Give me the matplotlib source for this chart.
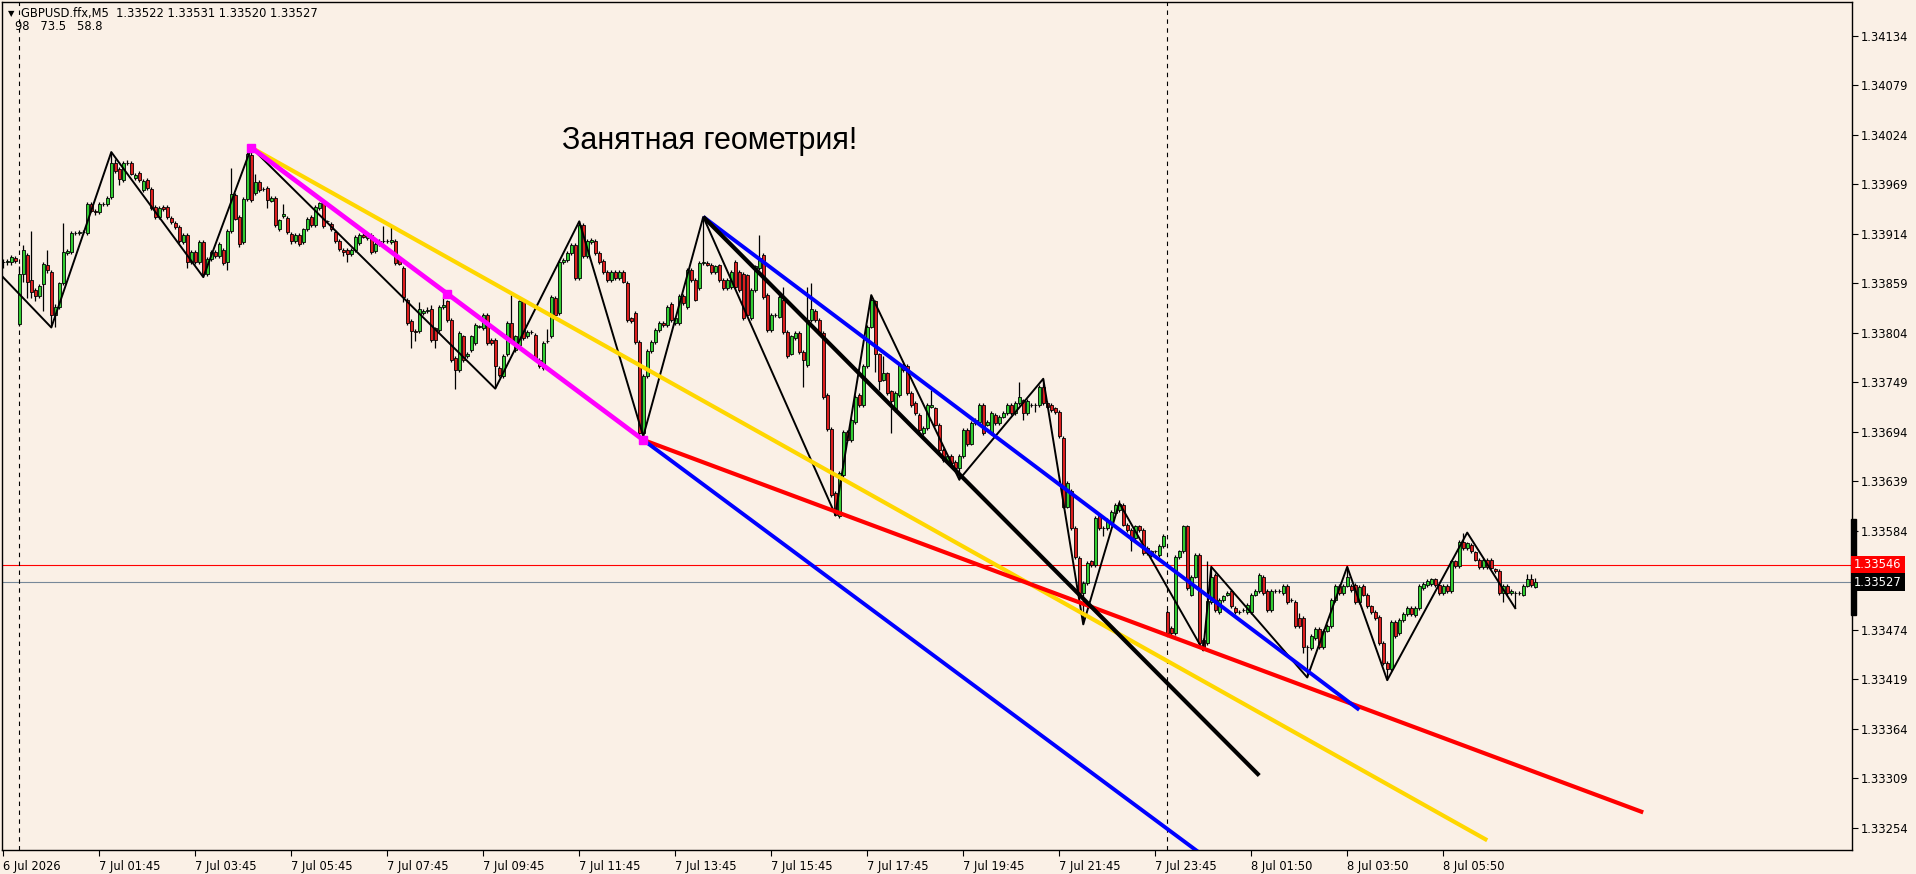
import numpy as np
import matplotlib.pyplot as plt
from matplotlib.patches import Rectangle
from matplotlib.transforms import blended_transform_factory

# 1. data: M5 candles, points above 1.33000
base = 1.33
pt = 1e-5

o = [883, 883, 883, 887, 814, 869, 891, 863, 852, 845, 858, 880, 872, 824, 833, 859, 893, 894, 915, 915,
     916, 915, 947, 940, 938, 947, 947, 955, 993, 986, 974, 993, 993, 976, 982, 963, 974, 964, 944, 933,
     944, 944, 932, 926, 922, 905, 913, 883, 894, 883, 905, 869, 886, 894, 889, 896, 883, 917, 957, 933,
     905, 953, 1002, 959, 972, 964, 965, 951, 954, 919, 934, 932, 914, 906, 913, 905, 919, 933, 924, 943,
     949, 928, 925, 916, 906, 896, 896, 892, 896, 904, 913, 909, 913, 895, 903, 906, 906, 905, 906, 887,
     876, 841, 817, 806, 806, 826, 828, 830, 809, 807, 833, 839, 818, 776, 763, 800, 778, 785, 793, 811,
     809, 824, 796, 796, 765, 756, 780, 815, 785, 791, 839, 800, 805, 802, 774, 765, 795, 800, 843, 826,
     883, 885, 893, 902, 865, 924, 889, 905, 906, 893, 884, 872, 863, 872, 865, 872, 860, 820, 826, 794,
     693, 756, 784, 794, 807, 815, 813, 836, 815, 815, 845, 833, 874, 863, 854, 882, 882, 880, 872, 879,
     863, 854, 855, 883, 872, 870, 868, 820, 852, 876, 891, 846, 807, 824, 822, 841, 805, 781, 798, 804,
     783, 768, 818, 828, 818, 804, 735, 697, 626, 600, 646, 694, 685, 705, 735, 724, 767, 811, 839, 780,
     752, 759, 739, 718, 735, 768, 767, 737, 726, 713, 693, 698, 722, 720, 702, 674, 661, 667, 661, 654,
     667, 696, 681, 704, 705, 724, 702, 693, 713, 704, 711, 715, 724, 715, 726, 729, 715, 724, 724, 724,
     744, 726, 724, 720, 716, 687, 611, 628, 587, 554, 515, 526, 550, 546, 600, 587, 587, 593, 604, 607,
     613, 591, 585, 576, 589, 585, 565, 561, 561, 557, 567, 494, 476, 470, 555, 561, 589, 513, 533, 557,
     463, 459, 505, 535, 494, 507, 513, 517, 498, 494, 496, 494, 494, 513, 517, 533, 517, 496, 517, 517,
     515, 523, 507, 505, 487, 487, 455, 454, 465, 475, 455, 473, 478, 507, 523, 515, 523, 523, 524, 505,
     523, 513, 500, 494, 488, 459, 437, 430, 483, 470, 485, 491, 498, 490, 498, 520, 524, 525, 530, 524,
     515, 523, 517, 550, 545, 572, 565, 568, 560, 552, 544, 552, 552, 541, 539, 515, 523, 515, 515, 515,
     513, 523, 530, 522]
c = [883, 884, 888, 884, 869, 896, 861, 850, 845, 856, 881, 874, 824, 833, 859, 894, 895, 915, 915, 916,
     916, 947, 940, 938, 947, 947, 954, 993, 984, 975, 993, 993, 981, 980, 974, 973, 965, 943, 933, 943,
     942, 933, 927, 922, 906, 913, 883, 894, 883, 905, 869, 886, 894, 889, 903, 882, 917, 958, 931, 903,
     953, 1003, 952, 972, 963, 964, 952, 954, 924, 929, 936, 916, 906, 913, 903, 919, 931, 924, 944, 948,
     923, 928, 919, 906, 897, 894, 892, 896, 911, 913, 911, 913, 894, 903, 906, 906, 906, 907, 882, 881,
     844, 815, 806, 805, 830, 828, 829, 796, 796, 833, 835, 818, 774, 763, 804, 774, 781, 800, 813, 811,
     824, 793, 793, 767, 757, 778, 815, 796, 800, 839, 798, 805, 805, 776, 767, 793, 795, 844, 824, 883,
     885, 893, 902, 865, 924, 889, 906, 907, 893, 883, 872, 863, 872, 865, 872, 861, 818, 817, 794, 693,
     756, 784, 794, 807, 815, 813, 833, 818, 820, 845, 837, 874, 863, 841, 882, 882, 880, 872, 878, 863,
     854, 863, 872, 855, 852, 820, 824, 852, 878, 887, 844, 807, 824, 824, 844, 805, 778, 800, 804, 783,
     774, 818, 830, 818, 804, 733, 697, 624, 602, 648, 694, 685, 707, 733, 724, 767, 811, 841, 780, 750,
     759, 737, 728, 737, 768, 763, 737, 724, 715, 696, 698, 724, 724, 702, 674, 663, 667, 659, 654, 667,
     696, 680, 704, 707, 724, 693, 705, 715, 704, 711, 715, 724, 715, 726, 733, 715, 728, 724, 724, 744,
     726, 722, 718, 716, 689, 611, 637, 587, 555, 515, 526, 548, 546, 598, 587, 587, 596, 605, 613, 614,
     591, 585, 574, 589, 585, 559, 559, 557, 561, 567, 578, 470, 470, 555, 561, 589, 520, 533, 557, 459,
     452, 506, 533, 496, 507, 511, 515, 500, 494, 494, 496, 502, 513, 517, 535, 515, 496, 517, 517, 517,
     523, 505, 507, 478, 478, 455, 455, 467, 475, 455, 473, 478, 507, 523, 515, 523, 533, 518, 505, 522,
     513, 500, 494, 487, 459, 437, 430, 483, 467, 485, 492, 498, 491, 498, 523, 525, 528, 530, 524, 515,
     523, 517, 550, 545, 572, 565, 570, 561, 552, 544, 552, 544, 543, 539, 515, 523, 515, 517, 515, 515,
     523, 530, 524, 527]
h = [886, 886, 891, 889, 878, 902, 893, 917, 854, 858, 883, 896, 874, 836, 861, 926, 897, 917, 917, 918,
     918, 949, 949, 942, 949, 949, 956, 1005, 997, 988, 995, 996, 995, 982, 984, 975, 976, 966, 946, 945,
     946, 946, 934, 928, 924, 915, 915, 896, 896, 907, 907, 888, 896, 896, 905, 898, 919, 987, 959, 935,
     955, 1005, 1009, 981, 974, 966, 967, 956, 956, 931, 947, 934, 916, 915, 915, 921, 933, 935, 946, 950,
     951, 930, 927, 918, 908, 898, 898, 898, 913, 915, 915, 915, 915, 905, 908, 923, 908, 922, 908, 889,
     878, 843, 819, 808, 838, 830, 833, 835, 811, 835, 844, 841, 820, 778, 806, 802, 783, 802, 815, 813,
     826, 826, 798, 798, 767, 780, 817, 846, 802, 841, 841, 807, 807, 804, 776, 795, 808, 846, 845, 885,
     887, 895, 904, 904, 928, 926, 908, 909, 908, 895, 886, 874, 874, 874, 874, 874, 862, 822, 828, 796,
     758, 786, 796, 809, 817, 817, 835, 838, 822, 847, 847, 876, 876, 865, 884, 933, 884, 882, 880, 881,
     865, 865, 874, 885, 874, 872, 870, 854, 880, 913, 893, 848, 826, 826, 846, 855, 807, 802, 806, 806,
     785, 855, 860, 830, 820, 806, 737, 699, 628, 650, 696, 696, 709, 735, 737, 769, 813, 846, 841, 782,
     778, 761, 741, 739, 770, 770, 769, 739, 728, 715, 700, 726, 740, 722, 704, 676, 669, 669, 663, 669,
     698, 698, 706, 709, 726, 726, 707, 717, 715, 713, 717, 726, 726, 728, 749, 731, 730, 726, 726, 746,
     753, 728, 726, 722, 718, 689, 639, 630, 589, 556, 528, 550, 552, 600, 602, 589, 598, 607, 615, 618,
     615, 593, 587, 591, 591, 587, 567, 563, 563, 569, 580, 496, 478, 557, 563, 591, 591, 535, 559, 559,
     465, 550, 544, 537, 509, 513, 517, 519, 500, 496, 498, 504, 515, 519, 537, 535, 519, 519, 519, 519,
     525, 525, 509, 507, 493, 489, 457, 469, 477, 477, 475, 480, 509, 525, 525, 525, 544, 525, 526, 524,
     525, 515, 502, 496, 490, 461, 439, 485, 485, 487, 494, 500, 500, 500, 525, 527, 530, 532, 532, 526,
     525, 525, 552, 552, 574, 582, 572, 570, 562, 554, 554, 554, 554, 543, 541, 525, 525, 519, 517, 517,
     525, 536, 536, 531]
l = [876, 880, 880, 882, 812, 861, 843, 843, 840, 843, 828, 871, 811, 811, 831, 857, 891, 892, 913, 913,
     914, 913, 938, 935, 936, 945, 945, 953, 982, 968, 972, 991, 979, 974, 972, 961, 963, 941, 931, 931,
     940, 931, 925, 920, 904, 903, 876, 881, 881, 881, 866, 867, 884, 887, 887, 880, 874, 915, 929, 899,
     903, 951, 950, 957, 961, 962, 943, 949, 922, 917, 932, 914, 903, 904, 901, 903, 917, 922, 922, 941,
     921, 926, 917, 904, 895, 889, 883, 890, 894, 902, 909, 907, 892, 893, 901, 904, 904, 903, 880, 879,
     838, 813, 787, 795, 804, 824, 826, 794, 787, 805, 831, 816, 772, 742, 761, 772, 776, 783, 791, 809,
     807, 791, 791, 743, 755, 754, 778, 794, 783, 789, 796, 798, 803, 774, 765, 763, 793, 798, 822, 824,
     881, 883, 891, 863, 863, 887, 887, 903, 891, 881, 870, 861, 861, 863, 863, 859, 816, 815, 792, 691,
     689, 754, 782, 792, 805, 811, 811, 816, 813, 813, 835, 831, 861, 839, 852, 880, 878, 870, 870, 861,
     852, 852, 853, 853, 850, 818, 822, 818, 850, 874, 842, 805, 805, 822, 820, 803, 776, 779, 796, 781,
     744, 766, 816, 816, 802, 731, 695, 622, 600, 598, 644, 683, 683, 703, 722, 722, 765, 809, 760, 740,
     750, 735, 693, 716, 733, 761, 735, 722, 713, 694, 691, 696, 720, 700, 672, 661, 659, 657, 652, 641,
     665, 678, 679, 702, 703, 691, 700, 691, 702, 702, 709, 713, 713, 713, 724, 707, 713, 722, 716, 722,
     724, 720, 716, 714, 687, 609, 609, 585, 553, 513, 480, 524, 544, 544, 585, 578, 585, 591, 602, 605,
     589, 583, 562, 574, 583, 557, 557, 555, 559, 555, 565, 468, 468, 468, 553, 559, 518, 511, 531, 457,
     451, 457, 503, 494, 492, 505, 511, 498, 492, 492, 494, 492, 492, 511, 515, 513, 494, 494, 515, 515,
     513, 503, 505, 476, 476, 448, 422, 452, 463, 453, 453, 471, 476, 505, 513, 513, 521, 516, 503, 503,
     511, 498, 492, 485, 457, 435, 418, 428, 465, 468, 483, 489, 489, 488, 496, 518, 522, 523, 522, 513,
     513, 515, 515, 543, 543, 563, 563, 559, 550, 542, 542, 542, 541, 537, 513, 505, 513, 513, 498, 513,
     511, 521, 522, 520]

# zigzag turning points (bar, points)
zz_bar = [-0.3, 12, 27, 50, 62, 123, 144, 160, 175, 208, 217, 239, 260, 270, 279, 300, 302, 326, 336, 346, 366, 378]
zz_val = [867, 810, 1005, 866, 1010, 742, 928, 689, 933, 602, 846, 641, 753, 480, 615, 451, 544, 421, 544, 418, 582, 498]

# trend lines: (bar1, pt1, bar2, pt2, colour, width)
lines = [
    (62, 1010, 371, 240, '#FFD700', 3.0),
    (160, 685, 410, 271, '#FF0000', 3.0),
    (160, 685, 300, 223, '#0000FF', 2.8),
    (175, 933, 339, 385, '#0000FF', 2.8),
    (175, 933, 314, 312, '#000000', 3.0),
    (62, 1010, 160, 685, '#FF00FF', 3.4),
]
marks_bar = [62, 111, 160]
marks_val = [1010, 847.5, 685]

ask, bid = 546, 527
day_sep = [4, 291]

tick_bars = [0, 24, 48, 72, 96, 120, 144, 168, 192, 216, 240, 264, 288, 312, 336, 360]
tick_text = ['6 Jul 2026', '7 Jul 01:45', '7 Jul 03:45', '7 Jul 05:45', '7 Jul 07:45', '7 Jul 09:45',
             '7 Jul 11:45', '7 Jul 13:45', '7 Jul 15:45', '7 Jul 17:45', '7 Jul 19:45', '7 Jul 21:45',
             '7 Jul 23:45', '8 Jul 01:50', '8 Jul 03:50', '8 Jul 05:50']
price_ticks = [1.33254, 1.33309, 1.33364, 1.33419, 1.33474, 1.33584, 1.33639, 1.33694, 1.33749,
               1.33804, 1.33859, 1.33914, 1.33969, 1.34024, 1.34079, 1.34134]

# 2. plot
bg = '#FAF0E6'
W, H = 1916, 874
fig = plt.figure(figsize=(W / 100, H / 100), dpi=100, facecolor=bg)
ax = fig.add_axes([2 / W, 24 / H, 1850 / W, 848 / H], facecolor=bg)

O = base + np.array(o) * pt
C = base + np.array(c) * pt
Hi = base + np.array(h) * pt
Lo = base + np.array(l) * pt
x = np.arange(len(o))
up = C >= O

ax.vlines(x, Lo, Hi, color='black', linewidth=0.9, zorder=2)
body = np.where(np.abs(C - O) < 0.2 * pt, 0.3 * pt, C - O)
ax.bar(x[up], body[up], bottom=O[up], width=0.7, color='#32CD32', edgecolor='black', linewidth=0.6, zorder=3)
ax.bar(x[~up], body[~up], bottom=O[~up], width=0.7, color='#DC1E1E', edgecolor='black', linewidth=0.6, zorder=3)

ax.plot(zz_bar, base + np.array(zz_val) * pt, color='black', linewidth=1.4, zorder=4)

for b1, v1, b2, v2, col, lw in lines:
    ax.plot([b1, b2], [base + v1 * pt, base + v2 * pt], color=col, linewidth=lw,
            solid_capstyle='butt', zorder=5)
ax.plot(marks_bar, base + np.array(marks_val) * pt, 's', color='#FF00FF', markersize=6, zorder=6)

ax.axhline(base + ask * pt, color='#FF0000', linewidth=0.8, zorder=1)
ax.axhline(base + bid * pt, color='#778899', linewidth=0.8, zorder=1)
for d in day_sep:
    ax.axvline(d, color='black', linewidth=0.8, linestyle=(0, (4, 4)), zorder=1)

ax.set_xlim(-0.325, 462.2)
ax.set_ylim(1.332292, 1.341718)

# setting ticks
ax.set_xticks(tick_bars)
ax.set_xticklabels(tick_text, ha='left')
ax.yaxis.tick_right()
ax.set_yticks(price_ticks)
ax.set_yticklabels(['%.5f' % p for p in price_ticks])
ax.tick_params(axis='both', length=4, width=0.8, color='black', labelsize=8.3, pad=2)
ax.tick_params(axis='x', pad=3)
for s in ax.spines.values():
    s.set_color('black')
    s.set_linewidth(1.0)

# price labels on the scale
tr = blended_transform_factory(ax.transAxes, ax.transData)
ax.text(1.0012, base + ask * pt, '%.5f' % (base + ask * pt), transform=tr, color='white', fontsize=8.3,
        va='center', ha='left', bbox=dict(boxstyle='square,pad=0.25', fc='#FF0000', ec='none'), zorder=10)
ax.text(1.0012, base + bid * pt, '%.5f' % (base + bid * pt), transform=tr, color='white', fontsize=8.3,
        va='center', ha='left', bbox=dict(boxstyle='square,pad=0.25', fc='black', ec='none'), zorder=10)
ax.add_patch(Rectangle((0.9995, base + 490 * pt), 0.0025, 107 * pt, transform=tr, color='black',
                       clip_on=False, zorder=9))

# texts
fig.text(8 / W, 1 - 16 / H, '\u25bc', fontsize=6, va='baseline', ha='left')
fig.text(21 / W, 1 - 16.5 / H, 'GBPUSD.ffx,M5  1.33522 1.33531 1.33520 1.33527', fontsize=8.3, va='baseline')
fig.text(15 / W, 1 - 29.5 / H, '98   73.5   58.8', fontsize=8.3, va='baseline')
fig.text(562 / W, 1 - 148.5 / H, 'Занятная геометрия!', fontsize=22, family='Liberation Sans',
         va='baseline', ha='left')

fig.savefig('out.png', dpi=100, facecolor=bg)
